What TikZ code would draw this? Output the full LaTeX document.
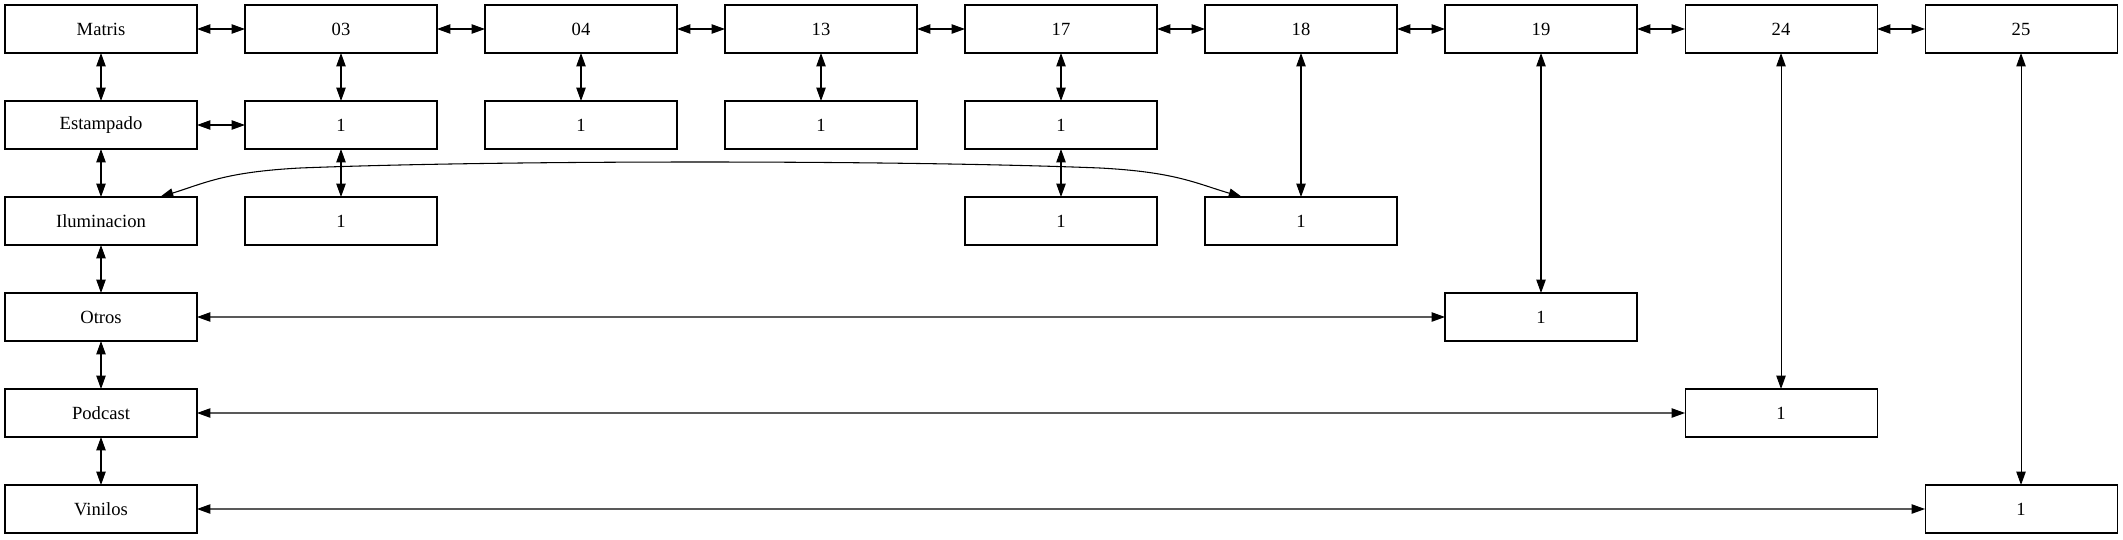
\documentclass[tikz,border=0pt]{standalone}
\usepackage{fontspec}
\setmainfont{Liberation Serif}
\usepackage{tikz}
\usetikzlibrary{positioning,arrows.meta,calc}
\tikzset{
  cell/.style={
    draw,
    line width=0.8pt,
    minimum width=144bp,
    minimum height=36bp,
    inner sep=0pt,
    outer sep=0pt,
    font=\fontsize{14}{16}\selectfont
  },
  link/.style={
    <->,
    >={Triangle[length=10bp,width=7bp]},
    line width=0.8pt
  }
}
\begin{document}
\begin{tikzpicture}[x=0.75bp, y=0.75bp, node distance=36bp]

  \useasboundingbox (0,0) rectangle (2123,-539);

  % Header row
  \node[cell] (matris) at (101,-29) {Matris};
  \node[cell, right=of matris] (c03) {03};
  \node[cell, right=of c03] (c04) {04};
  \node[cell, right=of c04] (c13) {13};
  \node[cell, right=of c13] (c17) {17};
  \node[cell, right=of c17] (c18) {18};
  \node[cell, right=of c18] (c19) {19};
  \node[cell, right=of c19] (c24) {24};
  \node[cell, right=of c24] (c25) {25};

  % Categories
  \node[cell, below=of matris] (estampado) {Estampado};
  \node[cell, below=of estampado] (iluminacion) {Iluminacion};
  \node[cell, below=of iluminacion] (otros) {Otros};
  \node[cell, below=of otros] (podcast) {Podcast};
  \node[cell, below=of podcast] (vinilos) {Vinilos};

  % Counts
  \node[cell, below=of c03] (e03) {1};
  \node[cell, below=of c04] (e04) {1};
  \node[cell, below=of c13] (e13) {1};
  \node[cell, below=of c17] (e17) {1};
  \node[cell, below=of e03] (i03) {1};
  \node[cell, below=of e17] (i17) {1};
  \node[cell, right=of i17] (i18) {1};
  \node[cell, below=of c19, yshift=-144bp] (o19) {1};
  \node[cell, below=of c24, yshift=-216bp] (p24) {1};
  \node[cell, below=of c25, yshift=-288bp] (v25) {1};

  % Header chain
  \draw[link] (matris) -- (c03);
  \draw[link] (c03) -- (c04);
  \draw[link] (c04) -- (c13);
  \draw[link] (c13) -- (c17);
  \draw[link] (c17) -- (c18);
  \draw[link] (c18) -- (c19);
  \draw[link] (c19) -- (c24);
  \draw[link] (c24) -- (c25);

  % Category chain
  \draw[link] (matris) -- (estampado);
  \draw[link] (estampado) -- (iluminacion);
  \draw[link] (iluminacion) -- (otros);
  \draw[link] (otros) -- (podcast);
  \draw[link] (podcast) -- (vinilos);

  % Column 03
  \draw[link] (estampado) -- (e03);
  \draw[link] (c03) -- (e03);
  \draw[link] (e03) -- (i03);

  % Columns 04, 13, 17
  \draw[link] (c04) -- (e04);
  \draw[link] (c13) -- (e13);
  \draw[link] (c17) -- (e17);
  \draw[link] (e17) -- (i17);

  % Column 18
  \draw[link] (c18) -- (i18);
  \draw[link] ($(iluminacion.north)+(59,0)$)
    .. controls (205,-183) and (225,-172) .. (300,-168)
    .. controls (500,-160) and (900,-160) .. (1100,-168)
    .. controls (1175,-172) and (1195,-183) .. ($(i18.north)+(-59,0)$);

  % Columns 19, 24, 25
  \draw[link] (c19) -- (o19);
  \draw[link] (otros) -- (o19);
  \draw[link] (c24) -- (p24);
  \draw[link] (podcast) -- (p24);
  \draw[link] (c25) -- (v25);
  \draw[link] (vinilos) -- (v25);

\end{tikzpicture}
\end{document}
